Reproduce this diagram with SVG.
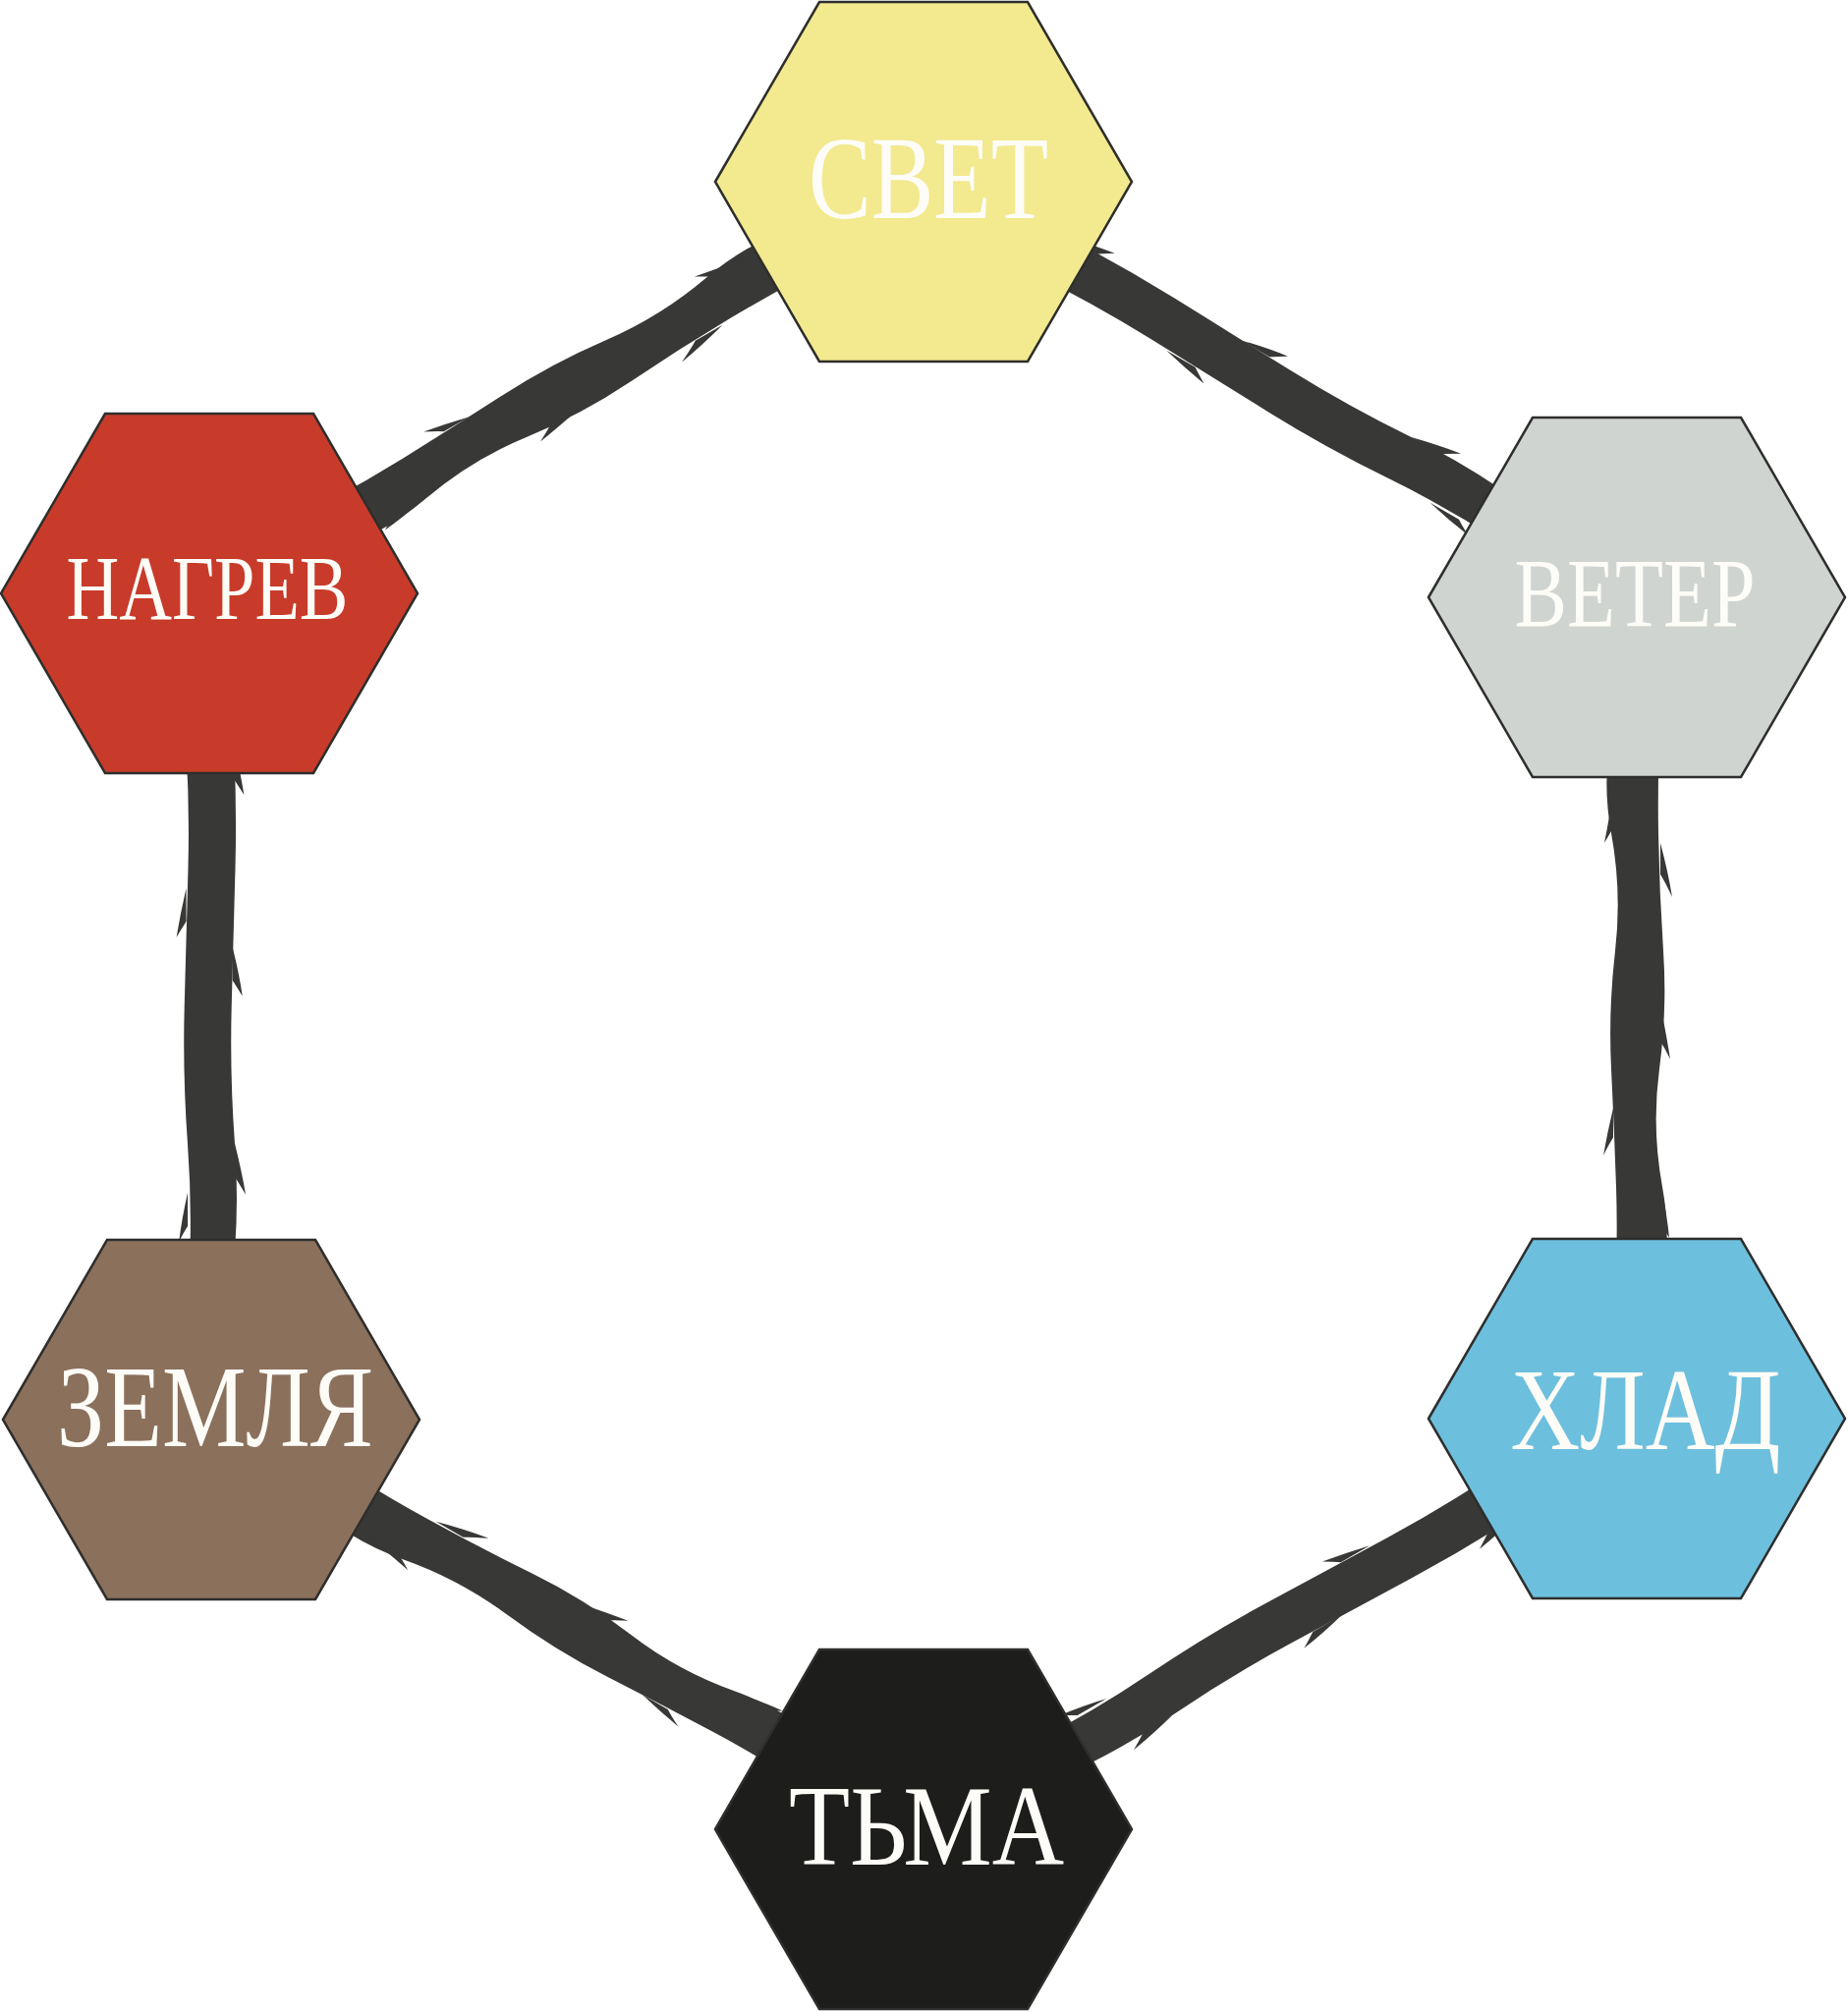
<svg xmlns="http://www.w3.org/2000/svg" xmlns:xlink="http://www.w3.org/1999/xlink" width="1881" height="2048" viewBox="0 0 1881 2048">
<style>
.hex{stroke:#2e2e2c;stroke-width:2.5;stroke-linejoin:miter}
.lbl{font-family:"Liberation Serif","DejaVu Serif",serif;fill:#fdfcf7;text-anchor:middle}
.brush{fill:#383836}
</style>
<defs>
<polygon id="hexshape" points="-212,0 -106,-183 106,-183 212,0 106,183 -106,183"/>
<g id="brushA">
<path d="M0,-24 Q60,-27 120,-24 T240,-22 T360,-27 T480,-23 T600,-26 T720,-22 T840,-24 L840,24 Q780,27 720,23 T600,21 T480,26 T360,22 T240,26 T120,22 T0,24 Z"/>
<path d="M250,-24 Q280,-32 305,-36 Q290,-29 282,-24 Z M420,-25 Q450,-31 470,-34 Q458,-28 452,-24 Z M600,-25 Q630,-31 652,-33 Q642,-27 636,-24 Z M200,24 Q230,29 250,33 Q240,27 234,24 Z M520,24 Q545,30 568,34 Q556,28 550,24 Z M700,22 Q722,28 742,31 Q732,26 728,23 Z"/>
</g>
<g id="brushB">
<path d="M0,-23 Q70,-20 140,-24 T280,-26 T420,-22 T560,-25 T700,-22 T840,-23 L840,23 Q770,26 700,22 T560,23 T420,26 T280,22 T140,25 T0,23 Z"/>
<path d="M150,-24 Q180,-31 205,-35 Q194,-28 188,-24 Z M360,-23 Q388,-30 410,-33 Q400,-27 394,-23 Z M560,-25 Q588,-32 612,-36 Q600,-29 594,-25 Z M300,24 Q326,30 350,34 Q340,28 334,24 Z M610,23 Q636,29 660,32 Q650,27 644,23 Z"/>
</g>
</defs>

<g id="connectors" class="brush">
<use xlink:href="#brushA" transform="translate(940,185) rotate(150)"/>
<use xlink:href="#brushB" transform="translate(940,185) rotate(30.2)"/>
<use xlink:href="#brushB" transform="translate(213,604) rotate(89.9)"/>
<use xlink:href="#brushA" transform="translate(1666,608) rotate(90)"/>
<use xlink:href="#brushA" transform="translate(215,1445) rotate(29.9)"/>
<use xlink:href="#brushB" transform="translate(1666,1444) rotate(150)"/>
</g>

<g id="node-svet">
<use xlink:href="#hexshape" class="hex" fill="#f3e98e" transform="translate(940,185)"/>
<text class="lbl" x="945" y="222" font-size="120" textLength="244" lengthAdjust="spacingAndGlyphs">СВЕТ</text>
</g>
<g id="node-nagrev">
<use xlink:href="#hexshape" class="hex" fill="#c83b2a" transform="translate(213,604)"/>
<text class="lbl" x="211" y="630" font-size="94" textLength="287" lengthAdjust="spacingAndGlyphs">НАГРЕВ</text>
</g>
<g id="node-veter">
<use xlink:href="#hexshape" class="hex" fill="#d0d4d1" transform="translate(1666,608)"/>
<text class="lbl" x="1664" y="637" font-size="100" textLength="245" lengthAdjust="spacingAndGlyphs">ВЕТЕР</text>
</g>
<g id="node-zemlya">
<use xlink:href="#hexshape" class="hex" fill="#8b705c" transform="translate(215,1445)"/>
<text class="lbl" x="219" y="1472" font-size="118" textLength="322" lengthAdjust="spacingAndGlyphs">ЗЕМЛЯ</text>
</g>
<g id="node-khlad">
<use xlink:href="#hexshape" class="hex" fill="#6dbfde" transform="translate(1666,1444)"/>
<text class="lbl" x="1675" y="1475" font-size="118" textLength="275" lengthAdjust="spacingAndGlyphs">ХЛАД</text>
</g>
<g id="node-tma">
<use xlink:href="#hexshape" class="hex" fill="#1d1d1b" transform="translate(940,1862)"/>
<text class="lbl" x="943" y="1898" font-size="116" textLength="280" lengthAdjust="spacingAndGlyphs">ТЬМА</text>
</g>
</svg>
